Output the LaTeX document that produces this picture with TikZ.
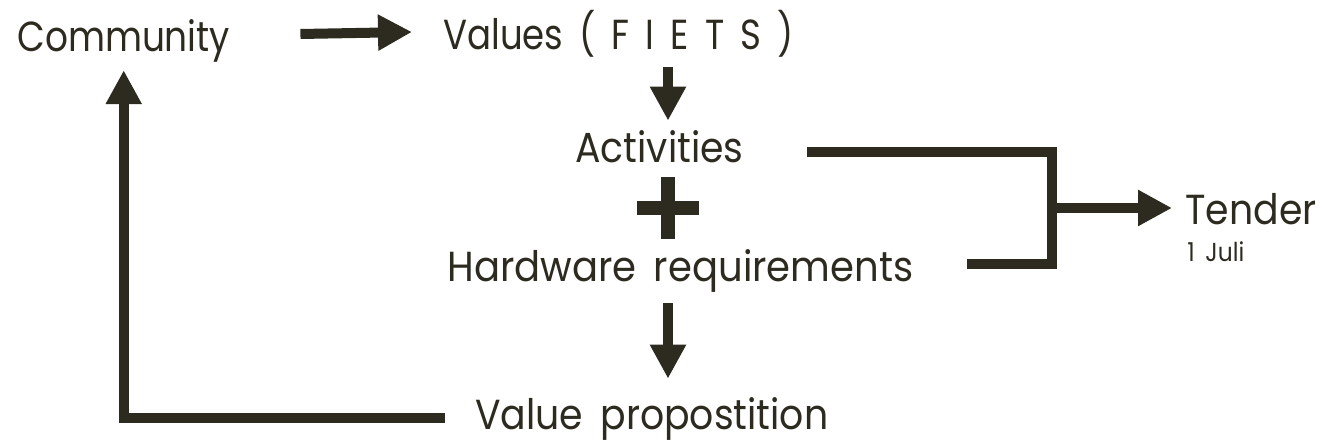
\documentclass[tikz,border=0pt]{standalone}
\usepackage{fontspec}
\setmainfont[WordSpace=1.7]{Poppins}
\usetikzlibrary{arrows.meta}
\definecolor{ink}{RGB}{45,42,32}

\begin{document}
\begin{tikzpicture}[x=0.5pt, y=-0.5pt, ink,
        lbl/.style={anchor=base west, inner sep=0pt, font=\fontsize{21}{25}\selectfont, xscale=0.9},
        bar/.style={draw=ink, line width=5pt},
        arr/.style={bar, -{Triangle[length=17pt, width=17pt]}}]
        \useasboundingbox (0,0) rectangle (1323,442);

        \node[lbl, xscale=0.95] (com) at (17,52) {Community};
        \node[lbl, xscale=0.94] (val) at (443,50) {Values ( F I E T S )};
        \node[lbl] (act) at (575,163) {Activities};
        \node[lbl, xscale=1.02] (hw) at (447,282) {Hardware requirements};
        \node[lbl] (vp) at (475,430) {Value propostition};
        \node[lbl] (ten) at (1185,225) {Tender};
        \node[lbl, font=\fontsize{13}{15}\selectfont] (jul) at (1187,262) {1 Juli};

        % plus sign between the two inputs
        \coordinate (plus) at (668,208);
        \fill (637,201) rectangle (699,215);
        \fill (661,177) rectangle (675,239);
        \coordinate (brk) at (1052,208);

        \draw[arr] ([xshift=35pt,yshift=9pt]com.base east) -- ([xshift=-15.5pt,yshift=9pt]val.base west);
        \draw[arr, shorten <=4.5pt, shorten >=5pt] (val.south -| plus) -- (act.north -| plus);
        \draw[arr, shorten <=5pt, shorten >=9.5pt] (hw.south -| plus) -- (vp.north -| plus);
        \draw[arr] ([xshift=-15pt,yshift=6pt]vp.base west) -| ([yshift=-3.5pt]com.south);
        \draw[bar] ([xshift=31.5pt,yshift=5.5pt]act.base east) -| (brk) |- ([xshift=26.5pt,yshift=9pt]hw.base east);
        \draw[arr] (brk) -- ([xshift=-6.5pt,yshift=8.5pt]ten.base west);
    \end{tikzpicture}
\end{document}
